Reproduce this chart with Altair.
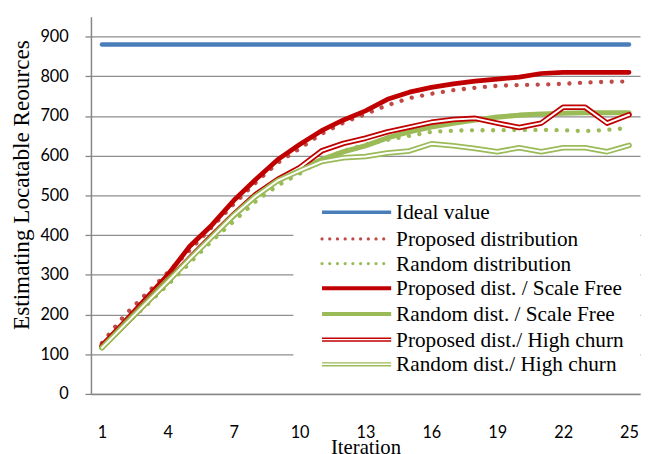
import altair as alt
import pandas as pd

iterations = list(range(1, 26))

ideal_value = [880, 880, 880, 880, 880, 880, 880, 880, 880, 880, 880, 880, 880,
               880, 880, 880, 880, 880, 880, 880, 880, 880, 880, 880, 880]
proposed_dist = [128, 196, 251, 306, 362, 420, 478, 532, 582, 618, 655, 683, 705,
                 727, 745, 756, 765, 771, 776, 778, 779, 781, 784, 786, 787]
random_dist = [118, 172, 222, 275, 330, 385, 435, 485, 525, 555, 590, 612, 628,
               640, 650, 660, 663, 664, 664, 665, 665, 664, 662, 665, 670]
proposed_sf = [122, 180, 240, 300, 372, 425, 487, 540, 590, 628, 663, 690, 713,
               742, 760, 772, 781, 788, 793, 798, 807, 810, 810, 810, 810]
random_sf = [117, 175, 232, 288, 340, 395, 448, 497, 537, 565, 590, 610, 625,
             645, 660, 672, 682, 690, 697, 702, 705, 707, 708, 708, 708]
proposed_hc = [118, 173, 229, 284, 342, 398, 452, 502, 540, 570, 612, 631, 644,
               660, 672, 684, 691, 694, 682, 671, 682, 722, 722, 682, 703]
random_hc = [116, 172, 228, 283, 340, 395, 450, 498, 537, 562, 585, 595, 598,
             607, 612, 630, 625, 618, 610, 620, 610, 620, 620, 610, 626]

series_keys = ["ideal", "prop", "rand", "propSF", "randSF", "propHC", "randHC"]
series_labels = ["Ideal value", "Proposed distribution", "Random distribution",
                 "Proposed dist. / Scale Free", "Random dist. / Scale Free",
                 "Proposed dist./ High churn", "Random dist./ High churn"]
series_values = [ideal_value, proposed_dist, random_dist, proposed_sf,
                 random_sf, proposed_hc, random_hc]

x_ticks = [1, 4, 7, 10, 13, 16, 19, 22, 25]
y_ticks = [0, 100, 200, 300, 400, 500, 600, 700, 800, 900]

rows = []
for key, vals in zip(series_keys, series_values):
    for it, v in zip(iterations, vals):
        rows.append({"series": key, "iter": it, "value": v})
df = pd.DataFrame(rows)
legend_df = pd.DataFrame({"key": series_keys, "label": series_labels,
                          "row": list(range(len(series_keys)))})

W, H = 556, 382
BLUE = "#4A7EBB"
RED = "#C00000"
DRED = "#BE4B48"
GREEN = "#9BBB59"

X = alt.X("iter:Q", scale=alt.Scale(domain=[0.5, 25.5], nice=False, zero=False),
          axis=alt.Axis(values=x_ticks, grid=False, ticks=False, tickSize=0,
                        title="Iteration", labelPadding=31, titlePadding=-4,
                        titleFontSize=21,
                        domainColor="#868686", domainWidth=1.5))
Y = alt.Y("value:Q", scale=alt.Scale(domain=[0, 950], nice=False),
          axis=alt.Axis(values=y_ticks, grid=True, gridColor="#8e8e8e", gridWidth=1.3,
                        tickSize=6, tickColor="#868686", tickWidth=1.3,
                        domainColor="#868686", domainWidth=1.5,
                        labelPadding=17, title="Estimating Locatable Reources",
                        titleFontSize=23.5, titlePadding=7, titleY=170))


def data_line(key, color, width, dash=None):
    kw = dict(color=color, strokeWidth=width, strokeCap="round", strokeJoin="round")
    if dash is not None:
        kw["strokeDash"] = dash
    return (alt.Chart(df).transform_filter(alt.datum.series == key)
            .mark_line(**kw).encode(x=X, y=Y))


legend_bg = alt.Chart(legend_df).transform_filter(alt.datum.row == 0).mark_rect(
    color="white").encode(x=alt.value(205), x2=alt.value(W), y=alt.value(186),
                          y2=alt.value(372))

layers = [
    legend_bg,
    data_line("ideal", BLUE, 4.5),
    data_line("prop", DRED, 4.4, [0.01, 10.7]),
    data_line("rand", GREEN, 4.4, [0.01, 10.7]),
    data_line("propSF", RED, 4.8),
    data_line("randSF", GREEN, 5.2),
    data_line("propHC", RED, 5.6),
    data_line("propHC", "white", 2.0),
    data_line("randHC", GREEN, 5.6),
    data_line("randHC", "white", 2.0),
]

# manual legend
legend_y = [198, 225, 250, 275, 301, 327, 352]
legend_styles = [
    [(BLUE, 3.6, None)],
    [(DRED, 3.3, [0.01, 7.8])],
    [(GREEN, 3.3, [0.01, 7.8])],
    [(RED, 4.0, None)],
    [(GREEN, 4.0, None)],
    [(RED, 4.4, None), ("white", 1.4, None)],
    [(GREEN, 4.4, None), ("white", 1.4, None)],
]
for i, (yy, styles) in enumerate(zip(legend_y, legend_styles)):
    for color, width, dash in styles:
        kw = dict(color=color, strokeWidth=width,
                  strokeCap="butt" if dash is None else "round")
        if dash is not None:
            kw["strokeDash"] = dash
        layers.append(
            alt.Chart(legend_df).transform_filter(alt.datum.row == i)
            .mark_rule(**kw)
            .encode(x=alt.value(234), x2=alt.value(304), y=alt.value(yy))
        )
    layers.append(
        alt.Chart(legend_df).transform_filter(alt.datum.row == i)
        .mark_text(align="left", baseline="middle", font="Liberation Serif",
                   fontSize=21.5, color="black")
        .encode(x=alt.value(309), y=alt.value(yy + 1), text="label:N")
    )

chart = alt.layer(*layers).properties(
    width=W, height=H,
    autosize=alt.AutoSizeParams(type="none"),
    padding={"left": 84, "top": 6, "right": 1, "bottom": 58},
).configure_view(stroke=None).configure_axis(
    labelFont="Lato", labelFontSize=16.5, labelColor="black",
    titleFont="Liberation Serif", titleFontWeight="normal",
    titleColor="black",
)

chart.save("out.html", embed_options={"renderer": "svg", "actions": False})
